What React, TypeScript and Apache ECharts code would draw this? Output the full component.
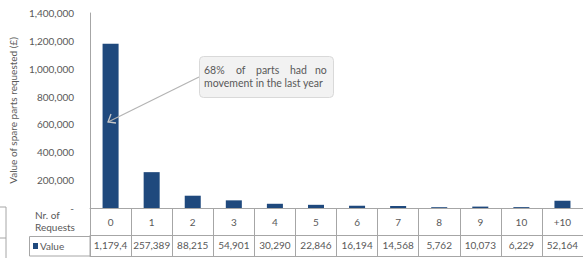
import React, { useEffect, useRef } from "react";
import * as echarts from "echarts";

const categories = ["0", "1", "2", "3", "4", "5", "6", "7", "8", "9", "10", "+10"];
const values = [1179400, 257389, 88215, 54901, 30290, 22846, 16194, 14568, 5762, 10073, 6229, 52164];
const yTicks = { min: 0, max: 1400000, interval: 200000 };
const seriesName = "Value";
const yTitle = "Value of spare parts requested (£)";
const rowHeader = "Nr. of\nRequests";
const noteLine1 = ["68%", "of", "parts", "had", "no"];
const noteLine2 = "movement in the last year";

const BAR = "#1F497D";
const TXT = "#595959";
const LINE = "#a6a6a6";
const FONT = "Lato, 'Open Sans', sans-serif";

export default function App() {
  const ref = useRef<HTMLDivElement>(null);
  useEffect(() => {
    if (!ref.current) return;
    const chart = echarts.init(ref.current, undefined, { renderer: "svg" });
    const fmt = (v: number) => v.toLocaleString("en-US");
    const wordX = [204, 236, 256, 290, 315];
    chart.setOption({
      animation: false,
      textStyle: { fontFamily: FONT },
      grid: { left: 90, top: 13, bottom: 50, width: 496 },
      xAxis: [
        {
          type: "category",
          data: categories,
          position: "bottom",
          axisLine: { show: true, lineStyle: { color: LINE } },
          axisTick: { show: true, interval: 0, length: 48, lineStyle: { color: LINE } },
          axisLabel: { interval: 0, margin: 9, fontSize: 10, color: TXT, fontFamily: FONT },
        },
        {
          type: "category",
          data: categories,
          position: "bottom",
          offset: 27,
          axisLine: { show: true, lineStyle: { color: LINE } },
          axisTick: { show: false },
          axisLabel: {
            interval: 0,
            margin: 5,
            fontSize: 10,
            color: TXT,
            fontFamily: FONT,
            width: 40,
            overflow: "truncate",
            ellipsis: "",
            formatter: (_v: string, i: number) => fmt(values[i]),
          },
        },
        {
          type: "category",
          data: categories,
          position: "bottom",
          offset: 48,
          axisLine: { show: true, lineStyle: { color: LINE } },
          axisTick: { show: false },
          axisLabel: { show: false },
        },
      ],
      yAxis: {
        type: "value",
        min: yTicks.min,
        max: yTicks.max,
        interval: yTicks.interval,
        name: yTitle,
        nameLocation: "middle",
        nameGap: 57,
        nameTextStyle: { fontSize: 10, color: TXT, fontFamily: FONT },
        axisLine: { show: true, lineStyle: { color: LINE } },
        axisTick: { show: false },
        splitLine: { show: false },
        axisLabel: {
          margin: 16,
          fontSize: 10,
          color: TXT,
          fontFamily: FONT,
          formatter: (v: number) => (v === 0 ? "-" : fmt(v)),
        },
      },
      series: [
        {
          type: "bar",
          name: seriesName,
          data: values,
          xAxisIndex: 0,
          barWidth: "39%",
          itemStyle: { color: BAR },
        },
      ],
      graphic: [
        { type: "line", z: 100, shape: { x1: 0, y1: 207, x2: 6, y2: 207 }, style: { stroke: LINE, lineWidth: 1 } },
        { type: "line", z: 100, shape: { x1: 0, y1: 238, x2: 6, y2: 238 }, style: { stroke: LINE, lineWidth: 1 } },
        { type: "line", z: 100, shape: { x1: 6, y1: 207, x2: 6, y2: 258 }, style: { stroke: LINE, lineWidth: 1 } },
        {
          type: "text",
          z: 100,
          x: 35,
          y: 209,
          style: { text: rowHeader, fontSize: 10, fill: TXT, fontFamily: FONT, lineHeight: 12 },
        },
        { type: "rect", z: 100, shape: { x: 29.5, y: 236.5, width: 60.5, height: 19.5 }, style: { fill: "none", stroke: LINE, lineWidth: 1 } },
        { type: "rect", z: 100, shape: { x: 33, y: 243, width: 5, height: 6 }, style: { fill: BAR } },
        {
          type: "text",
          z: 100,
          x: 40,
          y: 246,
          style: { text: seriesName, fontSize: 10, fill: TXT, fontFamily: FONT, verticalAlign: "middle" },
        },
        {
          type: "line",
          z: 100,
          shape: { x1: 199, y1: 77, x2: 108, y2: 122 },
          style: { stroke: "#b4b4b4", lineWidth: 1.2 },
        },
        {
          type: "polyline",
          z: 100,
          shape: { points: [[111, 114], [108, 122], [116, 123]] },
          style: { stroke: "#c8c8c8", lineWidth: 1.3, fill: "none" },
        },
        {
          type: "rect",
          z: 100,
          shape: { x: 199.5, y: 56.5, width: 134, height: 41, r: 4 },
          style: { fill: "#f2f2f2", stroke: "#d9d9d9", lineWidth: 1 },
        },
        ...noteLine1.map((w, i) => ({
          type: "text",
          z: 101,
          x: wordX[i],
          y: 70,
          style: { text: w, fontSize: 10.5, fill: TXT, fontFamily: FONT, verticalAlign: "middle" },
        })),
        {
          type: "text",
          z: 101,
          x: 204,
          y: 83,
          style: { text: noteLine2, fontSize: 10.5, fill: TXT, fontFamily: FONT, verticalAlign: "middle" },
        },
      ],
    });
    return () => chart.dispose();
  }, []);
  return <div ref={ref} style={{ width: 583, height: 258, position: "absolute", left: 0, top: 0 }} />;
}
